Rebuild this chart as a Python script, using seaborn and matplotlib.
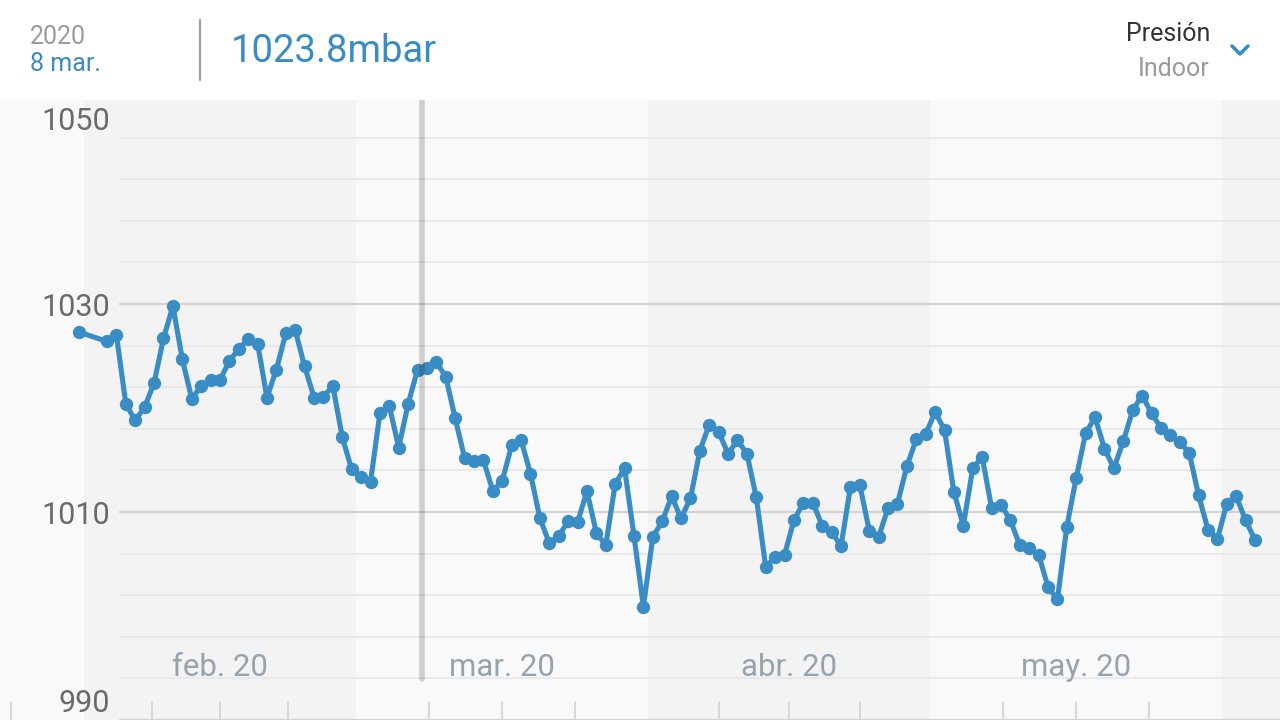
import pandas as pd
import seaborn as sns
import matplotlib.pyplot as plt
import matplotlib.dates as mdates
from matplotlib.lines import Line2D

# =========================
# DATOS
# =========================

# presión interior diaria (mbar), 31 ene. + 3 feb. .. 4 jun. 2020
first_day = "2020-01-31"
first_value = 1027.3
start_day = "2020-02-03"
pressure = [
    1026.4, 1027.0, 1020.4, 1018.8, 1020.1, 1022.4, 1026.7, 1029.8, 1024.7, 1020.9,
    1022.1, 1022.7, 1022.7, 1024.5, 1025.7, 1026.6, 1026.2, 1021.0, 1023.7, 1027.2,
    1027.5, 1024.0, 1021.0, 1021.1, 1022.1, 1017.2, 1014.1, 1013.4, 1012.9, 1019.5,
    1020.2, 1016.2, 1020.4, 1023.7, 1023.8, 1024.4, 1023.0, 1019.0, 1015.2, 1014.9,
    1015.0, 1012.0, 1013.0, 1016.4, 1016.9, 1013.7, 1009.4, 1007.0, 1007.7, 1009.1,
    1009.0, 1012.0, 1008.0, 1006.8, 1012.7, 1014.2, 1007.7, 1000.9, 1007.6, 1009.1,
    1011.5, 1009.4, 1011.3, 1015.9, 1018.4, 1017.7, 1015.6, 1016.9, 1015.6, 1011.4,
    1004.7, 1005.7, 1005.9, 1009.2, 1010.9, 1010.9, 1008.7, 1008.1, 1006.7, 1012.4,
    1012.6, 1008.2, 1007.6, 1010.4, 1010.8, 1014.4, 1017.0, 1017.5, 1019.6, 1017.9,
    1011.9, 1008.7, 1014.2, 1015.3, 1010.4, 1010.7, 1009.2, 1006.8, 1006.5, 1005.9,
    1002.8, 1001.6, 1008.6, 1013.3, 1017.6, 1019.1, 1016.1, 1014.2, 1016.8, 1019.8,
    1021.2, 1019.5, 1018.1, 1017.4, 1016.7, 1015.7, 1011.6, 1008.3, 1007.4, 1010.8,
    1011.5, 1009.2, 1007.3,
]

y_ticks = [990, 1010, 1030, 1050]
month_starts = ["2020-01-01", "2020-02-01", "2020-03-01", "2020-04-01",
                "2020-05-01", "2020-06-01", "2020-07-01"]
month_labels = ["", "feb. 20", "mar. 20", "abr. 20", "may. 20", ""]

cursor_day = "2020-03-08"
header_year = "2020"
header_day = "8 mar."
header_value = "1023.8mbar"
header_metric = "Presión"
header_place = "Indoor"

# =========================
# TABLA
# =========================

dates = [pd.Timestamp(first_day)] + list(pd.date_range(start_day, periods=len(pressure)))
df = pd.DataFrame({"fecha": [d + pd.Timedelta(hours=12) for d in dates],
                   "presion": [first_value] + pressure})

# =========================
# ESTILO
# =========================

sns.set_style("white")
plt.rcParams["font.family"] = ["Roboto", "DejaVu Sans"]

blue = "#3a8cc4"
W, H = 1280, 720

fig = plt.figure(figsize=(12.8, 7.2), dpi=100)
fig.patch.set_facecolor("white")
ax = fig.add_axes([0, 0, 1, 620 / H])
ax.set_facecolor("#f9f9f9")

feb1 = mdates.date2num(pd.Timestamp("2020-02-01"))
px_day = 9.41
ax.set_xlim(feb1 - 83.5 / px_day, feb1 + (W - 83.5) / px_day)
ax.set_ylim(990, 990 + 620 / 10.4)

# bandas de meses
ms = [mdates.date2num(pd.Timestamp(m)) for m in month_starts]
for i in range(len(ms) - 1):
    ax.axvspan(ms[i], ms[i + 1], color="#f3f3f3" if i % 2 else "#f9f9f9", lw=0, zorder=0)

# rejilla: menor cada 4 mbar, mayor cada 20
for v in range(990, 1051, 4):
    major = (v - 990) % 20 == 0
    ax.axhline(v, xmin=120 / W, xmax=1, color="#d3d3d3" if major else "#e9e9e9",
               lw=1.5, zorder=1)

# marcas abajo (cuartos de mes)
for i in range(len(ms) - 1):
    for q in (0.25, 0.5, 0.75):
        ax.axvline(ms[i] + q * (ms[i + 1] - ms[i]), ymin=0, ymax=18 / 620,
                   color="#d3d3d3", lw=1.2, zorder=1)

# etiquetas de meses
for i, lab in enumerate(month_labels):
    if lab:
        ax.text((ms[i] + ms[i + 1]) / 2, 52 / 620, lab, transform=ax.get_xaxis_transform(),
                ha="center", va="center", fontsize=22.5, color="#95a3ae", zorder=2)

# etiquetas eje y
offsets = {990: 17, 1010: -3, 1030: -3, 1050: -25}
for v in y_ticks:
    ax.annotate(str(v), xy=(0, v), xycoords=("axes fraction", "data"),
                xytext=(110, offsets[v]), textcoords="offset pixels",
                ha="right", va="center", fontsize=22, color="#6a6a6a", zorder=2)

# línea
sns.lineplot(data=df, x="fecha", y="presion", ax=ax, color=blue, lw=3.7,
             marker="o", markersize=9.6, markeredgewidth=0, zorder=3)

# cursor
ax.axvline(mdates.date2num(pd.Timestamp(cursor_day)), ymin=41 / 620, ymax=1,
           color="black", alpha=0.17, lw=4, zorder=4)

ax.set_xlabel("")
ax.set_ylabel("")
ax.set_xticks([])
ax.set_yticks([])
sns.despine(ax=ax, left=True, bottom=True)

# =========================
# CABECERA
# =========================

def fx(x):
    return x / W

def fy(y):
    return 1 - y / H

fig.text(fx(30), fy(37), header_year, fontsize=18, color="#9a9a9a", va="center")
fig.text(fx(30), fy(64), header_day, fontsize=18, color=blue, va="center")
fig.add_artist(Line2D([fx(200), fx(200)], [fy(20), fy(80)], color="#9e9e9e", lw=1.6))
fig.text(fx(231), fy(52), header_value, fontsize=27.5, color=blue, va="center")
fig.text(fx(1210), fy(34), header_metric, fontsize=18, color="#333333", ha="right", va="center")
fig.text(fx(1210), fy(69), header_place, fontsize=18, color="#9a9a9a", ha="right", va="center")
fig.add_artist(Line2D([fx(1232), fx(1240), fx(1248)], [fy(46), fy(54), fy(46)],
                      color=blue, lw=2.6, solid_capstyle="round", solid_joinstyle="round"))

plt.savefig("out.png", dpi=100)
